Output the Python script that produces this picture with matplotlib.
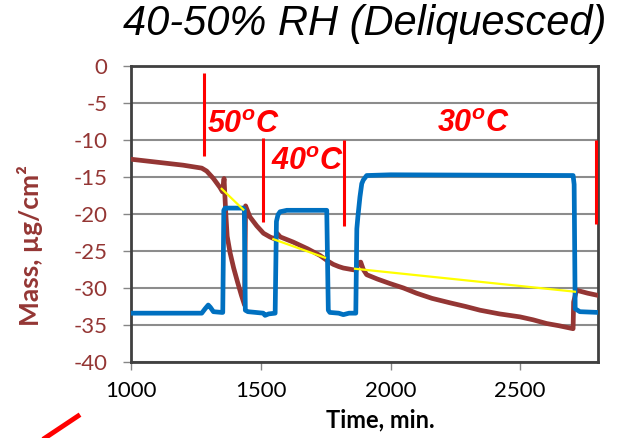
import matplotlib
matplotlib.use("Agg")
import matplotlib.pyplot as plt
import numpy as np

# ---- data ----
brown_t = [1000, 1100, 1200, 1272, 1291, 1317, 1342, 1352, 1358, 1364, 1370, 1381, 1395, 1410,
           1425, 1437, 1441, 1458, 1484, 1510, 1535, 1555, 1562, 1575, 1625, 1680, 1728, 1760,
           1779, 1800, 1818, 1850, 1868, 1875, 1885, 1895, 1908, 1950, 1998, 2050, 2100, 2160,
           2229, 2290, 2345, 2420, 2499, 2550, 2602, 2650, 2704, 2706, 2717, 2760, 2800]
brown_m = [-12.6, -13.0, -13.4, -13.8, -14.2, -15.2, -16.4, -17.0, -15.2, -19.5, -23.0, -25.2,
           -27.3, -29.2, -31.0, -32.3, -18.9, -20.4, -21.6, -22.6, -23.1, -23.4, -22.6, -23.1,
           -23.8, -24.7, -25.6, -26.4, -26.8, -27.1, -27.3, -27.5, -27.6, -26.6, -26.5, -27.5,
           -28.2, -28.8, -29.4, -30.0, -30.7, -31.4, -32.0, -32.5, -33.0, -33.5, -33.9, -34.3,
           -34.8, -35.1, -35.5, -31.9, -30.3, -30.7, -31.0]

blue_t = [1000, 1272, 1285, 1297, 1305, 1317, 1349, 1353, 1357, 1362, 1432, 1436, 1440, 1450,
          1480, 1509, 1516, 1530, 1555, 1560, 1566, 1574, 1600, 1700, 1754, 1760, 1766, 1800,
          1818, 1840, 1866, 1870, 1874, 1882, 1889, 1895, 1908, 2000, 2704, 2708, 2712, 2730, 2800]
blue_m = [-33.4, -33.4, -32.8, -32.3, -32.6, -33.2, -33.3, -33.3, -19.5, -19.2, -19.2, -19.4,
          -33.0, -33.2, -33.3, -33.4, -33.7, -33.5, -33.4, -21.0, -20.1, -19.7, -19.5, -19.5,
          -19.5, -33.0, -33.3, -33.4, -33.6, -33.4, -33.4, -22.0, -20.4, -17.7, -15.9, -15.4,
          -14.8, -14.7, -14.8, -16.0, -32.8, -33.2, -33.3]

yellow_t = [1349, 1432, np.nan, 1548, 1747, np.nan, 1863, 2711]
yellow_m = [-16.6, -19.4, np.nan, -23.4, -25.9, np.nan, -27.4, -30.5]

marker_t = [1281, 1507, 1820, 2791]
marker_top = [-0.9, -9.7, -10.0, -10.0]
marker_bot = [-12.2, -21.1, -21.6, -21.4]

label_texts = ["50", "40", "30"]
label_t = [1291, 1539, 2179]
label_m = [-9.05, -14.05, -8.9]

xticks = [1000, 1500, 2000, 2500]
yticks = [0, -5, -10, -15, -20, -25, -30, -35, -40]

# ---- style ----
plt.rcParams['mathtext.fontset'] = 'custom'
plt.rcParams['mathtext.rm'] = 'Liberation Sans'
plt.rcParams['mathtext.it'] = 'Liberation Sans:italic'
plt.rcParams['mathtext.bf'] = 'Liberation Sans:bold'
plt.rcParams['mathtext.bfit'] = 'Liberation Sans:italic:bold'

brown = '#943634'
blue = '#0070C0'
tickfont = 'Lato'

fig = plt.figure(figsize=(6.33, 4.38), dpi=100)
ax = fig.add_axes([0.2073, 0.1735, 0.7374, 0.6758])

ax.set_xlim(1000, 2800)
ax.set_ylim(-40, 0)
ax.set_xticks(xticks)
ax.set_yticks(yticks)
ax.set_xticklabels([str(v) for v in xticks], fontfamily=tickfont, fontsize=16, color='black')
ax.set_yticklabels([str(v) for v in yticks], fontfamily=tickfont, fontsize=16, color=brown)
ax.tick_params(axis='both', direction='out', length=6, width=1, color='#868686')
ax.tick_params(axis='y', pad=11)
ax.tick_params(axis='x', pad=8)
ax.grid(axis='y', color='#8c8c8c', linewidth=1.5)
ax.set_axisbelow(True)
for s in ax.spines.values():
    s.set_color('#404040')
    s.set_linewidth(2)

ax.plot(brown_t, brown_m, color=brown, lw=3.4, solid_joinstyle='round', zorder=3)
ax.plot(blue_t, blue_m, color=blue, lw=3.4, solid_joinstyle='round', zorder=4)
ax.plot(yellow_t, yellow_m, color='#FFFF00', lw=1.6, zorder=5)
ax.vlines(marker_t, marker_bot, marker_top, color='#FF0000', lw=2.2, zorder=6, clip_on=False)

for s, t, m in zip(label_texts, label_t, label_m):
    ax.text(t, m, r'$\mathbfit{' + s + r'^{o}C}$', color='#FF0000', fontsize=22,
            ha='left', va='baseline', zorder=7)

fig.text(380 / 633, 1 - 420 / 438, 'Time, min.', fontfamily=tickfont, fontweight='bold',
         fontsize=17, ha='center', va='center')
fig.text(30 / 633, 1 - 245 / 438, 'Mass, µg/cm²', fontfamily=tickfont, fontweight='bold',
         fontsize=19, color=brown, rotation=90, ha='center', va='center')

fig.text(365 / 633, 1 - 35 / 438, '40-50% RH (Deliquesced)', fontfamily='Liberation Sans',
         style='italic', fontsize=30, ha='center', va='baseline')

# stray red stroke at bottom-left
fig.add_artist(plt.Line2D([45 / 633, 78 / 633], [1 - 438 / 438, 1 - 416 / 438],
                          color='#FF0000', lw=3.5, transform=fig.transFigure))

fig.savefig('out.png', dpi=100)
